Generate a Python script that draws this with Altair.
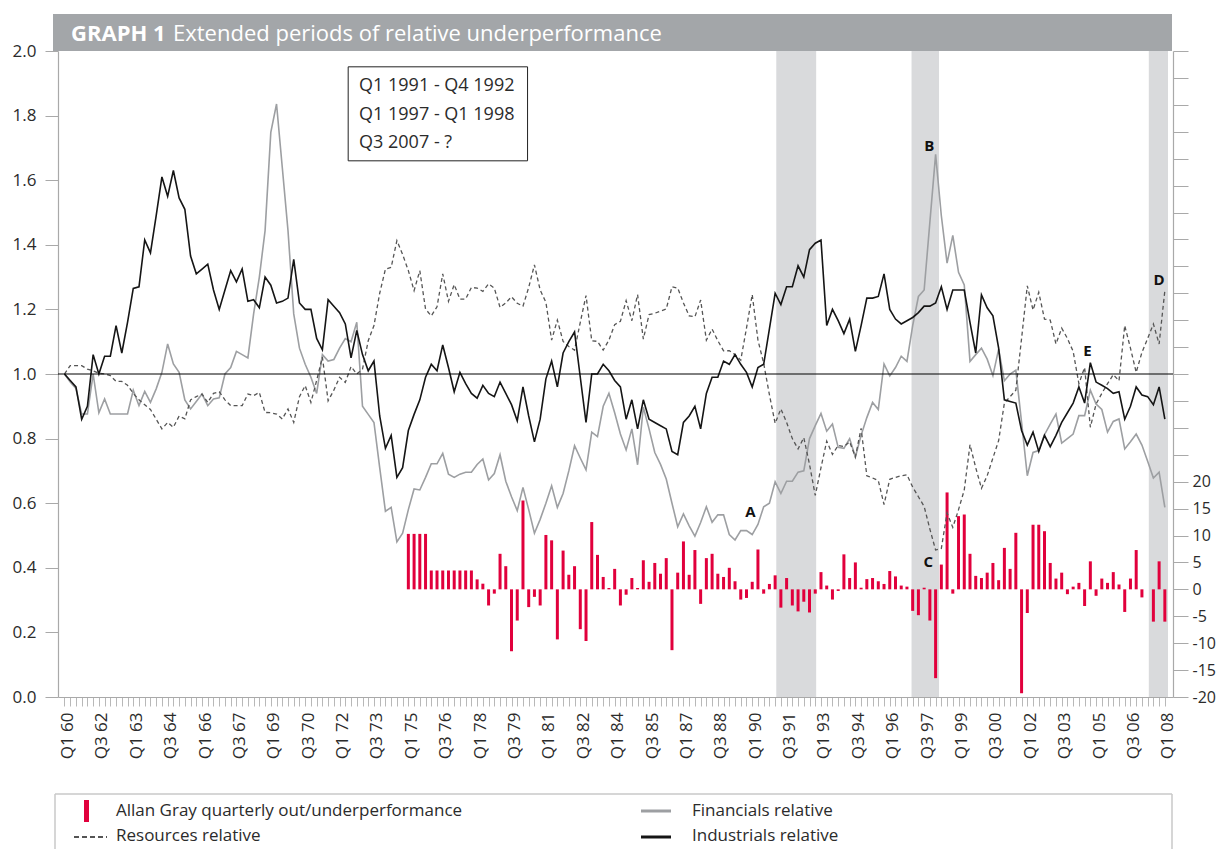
import json
import altair as alt
import pandas as pd

# ---------------- data ----------------
X_LABELS = ["Q1 60", "Q3 62", "Q1 63", "Q3 64", "Q1 66", "Q3 67", "Q1 69", "Q3 70",
            "Q1 72", "Q3 73", "Q1 75", "Q3 76", "Q1 78", "Q3 79", "Q1 81", "Q3 82",
            "Q1 84", "Q3 85", "Q1 87", "Q3 88", "Q1 90", "Q3 91", "Q1 93", "Q3 94",
            "Q1 96", "Q3 97", "Q1 99", "Q3 00", "Q1 02", "Q3 03", "Q1 05", "Q3 06", "Q1 08"]

industrials = [
    1.00, 0.98, 0.96, 0.86, 0.90, 1.06, 1.00, 1.055, 1.055, 1.15,
    1.065, 1.16, 1.265, 1.27, 1.415, 1.375, 1.49, 1.61, 1.55, 1.63,
    1.545, 1.51, 1.365, 1.31, 1.325, 1.34, 1.26, 1.20, 1.26, 1.32,
    1.285, 1.325, 1.225, 1.23, 1.205, 1.30, 1.275, 1.22, 1.225, 1.235,
    1.355, 1.22, 1.20, 1.20, 1.11, 1.075, 1.23, 1.21, 1.19, 1.155,
    1.05, 1.135, 1.06, 1.01, 1.04, 0.87, 0.77, 0.81, 0.68, 0.71,
    0.825, 0.875, 0.92, 0.99, 1.03, 1.01, 1.09, 1.02, 0.945, 1.005,
    0.97, 0.94, 0.925, 0.965, 0.94, 0.93, 0.975, 0.94, 0.905, 0.855,
    0.96, 0.87, 0.79, 0.86, 0.985, 1.04, 0.96, 1.065, 1.10, 1.13,
    0.99, 0.85, 1.00, 1.00, 1.03, 1.01, 0.98, 0.96, 0.86, 0.92,
    0.83, 0.92, 0.86, 0.85, 0.84, 0.83, 0.76, 0.75, 0.85, 0.87,
    0.90, 0.83, 0.94, 0.99, 0.99, 1.04, 1.03, 1.06, 1.03, 1.005,
    0.96, 1.02, 1.03, 1.14, 1.25, 1.215, 1.27, 1.27, 1.335, 1.30,
    1.385, 1.405, 1.415, 1.15, 1.20, 1.165, 1.125, 1.17, 1.07, 1.15,
    1.235, 1.235, 1.24, 1.31, 1.20, 1.17, 1.155, 1.165, 1.175, 1.19,
    1.21, 1.21, 1.22, 1.27, 1.20, 1.26, 1.26, 1.26, 1.16, 1.065,
    1.245, 1.205, 1.18, 1.08, 0.92, 0.915, 0.91, 0.825, 0.78, 0.82,
    0.76, 0.81, 0.775, 0.81, 0.85, 0.88, 0.91, 0.96, 0.91, 1.035,
    0.975, 0.965, 0.955, 0.94, 0.945, 0.86, 0.90, 0.96, 0.935, 0.93,
    0.905, 0.96, 0.86]

financials = [
    1.00, 0.975, 0.955, 0.876, 0.876, 1.00, 0.88, 0.923, 0.876, 0.876,
    0.876, 0.876, 0.95, 0.902, 0.946, 0.912, 0.954, 1.005, 1.093, 1.031,
    1.005, 0.92, 0.892, 0.915, 0.938, 0.902, 0.923, 0.926, 1.00, 1.02,
    1.07, 1.06, 1.05, 1.186, 1.30, 1.444, 1.748, 1.836, 1.64, 1.444,
    1.186, 1.08, 1.03, 0.99, 0.94, 1.06, 1.04, 1.045, 1.08, 1.11,
    1.10, 1.16, 0.90, 0.875, 0.85, 0.71, 0.575, 0.587, 0.48, 0.507,
    0.58, 0.644, 0.641, 0.68, 0.722, 0.722, 0.754, 0.69, 0.68, 0.69,
    0.696, 0.696, 0.72, 0.737, 0.672, 0.692, 0.75, 0.668, 0.62, 0.577,
    0.649, 0.58, 0.507, 0.55, 0.60, 0.654, 0.587, 0.63, 0.70, 0.778,
    0.74, 0.703, 0.82, 0.806, 0.90, 0.94, 0.88, 0.814, 0.765, 0.83,
    0.719, 0.897, 0.83, 0.757, 0.72, 0.675, 0.60, 0.527, 0.567, 0.53,
    0.498, 0.54, 0.589, 0.541, 0.564, 0.564, 0.503, 0.486, 0.515, 0.515,
    0.503, 0.534, 0.589, 0.60, 0.666, 0.63, 0.668, 0.668, 0.696, 0.70,
    0.80, 0.84, 0.878, 0.823, 0.845, 0.773, 0.77, 0.80, 0.743, 0.81,
    0.865, 0.912, 0.89, 1.031, 0.994, 1.02, 1.055, 1.039, 1.15, 1.24,
    1.26, 1.47, 1.68, 1.49, 1.343, 1.429, 1.315, 1.276, 1.039, 1.06,
    1.08, 1.046, 0.995, 1.077, 0.979, 1.00, 1.012, 0.85, 0.685, 0.757,
    0.763, 0.812, 0.845, 0.876, 0.786, 0.80, 0.814, 0.871, 0.871, 0.95,
    0.907, 0.89, 0.82, 0.853, 0.861, 0.768, 0.79, 0.814, 0.78, 0.73,
    0.678, 0.696, 0.587]

resources = [
    1.00, 1.026, 1.026, 1.026, 1.015, 1.01, 1.002, 1.00, 0.995, 0.977,
    0.977, 0.965, 0.94, 0.92, 0.905, 0.89, 0.86, 0.83, 0.85, 0.835,
    0.87, 0.861, 0.92, 0.93, 0.938, 0.912, 0.94, 0.945, 0.92, 0.902,
    0.902, 0.902, 0.938, 0.933, 0.943, 0.881, 0.88, 0.876, 0.861, 0.892,
    0.85, 0.93, 0.964, 0.912, 0.98, 1.052, 0.917, 0.95, 0.99, 0.974,
    1.023, 1.00, 1.015, 1.103, 1.15, 1.25, 1.325, 1.33, 1.413, 1.37,
    1.32, 1.258, 1.32, 1.201, 1.18, 1.208, 1.31, 1.225, 1.277, 1.232,
    1.232, 1.268, 1.266, 1.256, 1.279, 1.266, 1.206, 1.22, 1.239, 1.219,
    1.21, 1.268, 1.338, 1.26, 1.222, 1.105, 1.167, 1.101, 1.085, 1.074,
    1.16, 1.243, 1.103, 1.101, 1.074, 1.105, 1.153, 1.163, 1.227, 1.165,
    1.246, 1.108, 1.184, 1.188, 1.195, 1.201, 1.27, 1.266, 1.22, 1.18,
    1.177, 1.229, 1.105, 1.139, 1.103, 1.072, 1.072, 1.06, 1.043, 1.142,
    1.246, 1.105, 1.033, 0.936, 0.847, 0.892, 0.85, 0.80, 0.768, 0.803,
    0.72, 0.624, 0.71, 0.792, 0.751, 0.779, 0.775, 0.79, 0.743, 0.832,
    0.685, 0.678, 0.67, 0.596, 0.674, 0.68, 0.685, 0.688, 0.65, 0.62,
    0.59, 0.52, 0.455, 0.46, 0.57, 0.525, 0.58, 0.641, 0.781, 0.71,
    0.646, 0.685, 0.74, 0.794, 0.91, 0.93, 0.95, 1.11, 1.273, 1.198,
    1.253, 1.17, 1.167, 1.093, 1.142, 1.11, 1.07, 0.97, 1.02, 0.835,
    0.907, 0.94, 0.97, 0.998, 0.979, 1.15, 1.08, 1.005, 1.067, 1.11,
    1.155, 1.093, 1.258]

# Allan Gray quarterly out/underperformance (%), from Q1 1975
FIRST_BAR_QUARTER = 60
allan_gray = [
    10.3, 10.3, 10.3, 10.3, 3.5, 3.5, 3.5, 3.5, 3.5, 3.5,
    3.5, 3.5, 1.85, 1.05, -3.0, -0.8, 6.6, 4.3, -11.5, -5.8,
    16.5, -3.3, -1.4, -3.0, 10.1, 9.1, -9.3, 7.2, 2.7, 4.3,
    -7.4, -9.6, 12.5, 6.4, 2.3, 0.25, 3.8, -3.0, -1.0, 2.1,
    0.25, 5.4, 1.4, 4.9, 2.9, 5.8, -11.3, 3.1, 8.9, 2.7,
    7.3, -2.7, 5.8, 6.6, 2.9, 2.3, 4.0, 1.5, -1.9, -1.6,
    1.4, 7.4, -0.8, 1.0, 2.6, -3.4, 2.1, -3.0, -4.1, -2.3,
    -4.3, -0.8, 3.2, 0.7, -1.9, -0.3, 6.5, 2.1, 5.0, 0.3,
    1.9, 2.1, 1.5, 1.0, 3.4, 2.4, 0.7, 0.5, -4.0, -4.8,
    0.3, -5.8, -16.5, 4.6, 18.0, -0.8, 13.6, 13.9, 6.6, 2.5,
    2.1, 3.1, 4.9, 1.7, 7.7, 3.8, 10.5, -19.3, -4.4, 12.0,
    12.0, 10.8, 4.9, 2.0, 3.1, -0.9, 0.5, 1.2, -3.1, 5.2,
    -1.2, 2.0, 1.2, 3.2, 0.9, -4.2, 2.0, 7.3, -1.5, 0.0,
    -6.0, 5.2, -6.0]

period_labels = ["Q1 1991 - Q4 1992", "Q1 1997 - Q1 1998", "Q3 2007 - ?"]
period_start = [124.2, 147.8, 189.2]
period_end = [131.16, 152.6, 192.55]

point_labels = ["A", "B", "C", "D", "E"]
point_q = [119.7, 150.9, 150.7, 191.0, 178.5]
point_v = [0.573, 1.706, 0.418, 1.291, 1.071]

title_bold = "GRAPH 1"
title_rest = "Extended periods of relative underperformance"
series_names = ["Allan Gray quarterly out/underperformance", "Resources relative",
                "Financials relative", "Industrials relative"]

# ---------------- styling ----------------
FONT = "Open Sans"
RED = "#e1003c"
GREY_LINE = "#9d9fa2"
BLACK = "#151515"
DASH_COL = "#555555"
AXIS_COL = "#a9a9a9"
TXT = "#2b2b2b"
W, H = 1115, 646

lines_df = pd.DataFrame({"k": list(range(len(industrials))), "ind": industrials,
                         "fin": financials, "res": resources})
bars_df = pd.DataFrame({"k": list(range(FIRST_BAR_QUARTER, FIRST_BAR_QUARTER + len(allan_gray))),
                        "ag": allan_gray})
bands_df = pd.DataFrame({"start": period_start, "end": period_end})
points_df = pd.DataFrame({"k": point_q, "v": point_v, "t": point_labels})

xscale = alt.Scale(domain=[-0.26, 192.55], nice=False, zero=False)
yscale = alt.Scale(domain=[0, 2], nice=False, zero=False)
bscale = alt.Scale(domain=[-20, 100], nice=False)

label_expr = "datum.value % 6 == 0 ? " + json.dumps(X_LABELS) + "[datum.value / 6] : ''"
x_axis = alt.Axis(values=list(range(0, 193)), labelExpr=label_expr, labelAngle=270,
                  labelAlign="right", labelBaseline="middle", labelOffset=3,
                  labelOverlap=False, labelFlush=False, labelBound=False,
                  tickSize=9, tickColor="#b8b8b8", tickWidth=1,
                  domainColor=AXIS_COL, domainWidth=1.2,
                  labelFontSize=17, labelColor=TXT, labelFont=FONT, labelPadding=6,
                  grid=False, title=None)
y_axis = alt.Axis(orient="left", values=[round(0.2 * i, 1) for i in range(11)], format=".1f",
                  tickSize=13, tickColor=AXIS_COL, domainColor=AXIS_COL, domainWidth=1.2,
                  labelPadding=9, labelFontSize=17, labelColor=TXT, labelFont=FONT,
                  grid=False, title=None, labelOverlap=False)
b_axis = alt.Axis(orient="right", values=list(range(-20, 101, 5)),
                  labelExpr="datum.value <= 20 ? '' + datum.value : ''",
                  tickSize=15, tickColor=AXIS_COL, domainColor=AXIS_COL, domainWidth=1.2,
                  labelPadding=4, labelFontSize=16, labelColor=TXT, labelFont=FONT,
                  grid=False, title=None, labelOverlap=False)


def X(field="k"):
    return alt.X(f"{field}:Q", scale=xscale, axis=x_axis)


def Y(field):
    return alt.Y(f"{field}:Q", scale=yscale, axis=y_axis)


# shaded periods
bands = alt.Chart(bands_df).mark_rect(color="#d9dadc").encode(
    x=X("start"), x2="end:Q", y=alt.value(0), y2=alt.value(H))

# bars
bars = alt.Chart(bars_df).mark_bar(size=3, color=RED).encode(
    x=X(), y=alt.Y("ag:Q", scale=bscale, axis=b_axis))

# lines
base = alt.Chart(lines_df)
fin_line = base.mark_line(color=GREY_LINE, strokeWidth=1.6).encode(x=X(), y=Y("fin"))
res_line = base.mark_line(color=DASH_COL, strokeWidth=1.3, strokeDash=[4, 3]).encode(x=X(), y=Y("res"))
ind_line = base.mark_line(color=BLACK, strokeWidth=1.6).encode(x=X(), y=Y("ind"))
one_rule = alt.Chart(pd.DataFrame({"v": [1.0]})).mark_rule(color="#000000", strokeWidth=1).encode(y=Y("v"))

# annotation box
box_rect = alt.Chart(pd.DataFrame({"x1": [49.5], "x2": [80.8], "y1": [1.951], "y2": [1.660]})).mark_rect(
    fill="white", stroke="#222222", strokeWidth=1).encode(x=X("x1"), x2="x2:Q", y=Y("y1"), y2="y2:Q")
box_text = alt.Chart(pd.DataFrame({"k": [51.4] * 3, "v": [1.892, 1.802, 1.714], "t": period_labels})).mark_text(
    align="left", baseline="middle", font=FONT, fontSize=18, color=TXT).encode(x=X(), y=Y("v"), text="t:N")

letters = alt.Chart(points_df).mark_text(align="center", baseline="middle", font=FONT, fontSize=15,
                                          fontWeight="bold", color="#111111").encode(
    x=X(), y=Y("v"), text="t:N")

left_group = alt.layer(fin_line, res_line, ind_line, one_rule, box_rect, box_text, letters)

# title bar
one = pd.DataFrame({"a": [0]})
title_rect = alt.Chart(one).mark_rect(color="#a3a6a9").encode(
    x=alt.value(-5), x2=alt.value(W - 1), y=alt.value(-37), y2=alt.value(0))
title1 = alt.Chart(pd.DataFrame({"t": [title_bold]})).mark_text(
    align="left", baseline="alphabetic", font=FONT, fontSize=22, fontWeight="bold", color="white").encode(
    x=alt.value(13), y=alt.value(-10), text="t:N")
title2 = alt.Chart(pd.DataFrame({"t": [title_rest]})).mark_text(
    align="left", baseline="alphabetic", font=FONT, fontSize=22, color="white").encode(
    x=alt.value(115), y=alt.value(-10), text="t:N")

# legend box
LEG_TOP = 743
LEG_BOT = 798
ROW1, ROW2 = 760, 785
leg_top = alt.Chart(one).mark_rule(color="#c9c9c9", strokeWidth=1.5).encode(
    x=alt.value(-3), x2=alt.value(W - 1), y=alt.value(LEG_TOP))
leg_left = alt.Chart(one).mark_rule(color="#c9c9c9", strokeWidth=1.5).encode(
    x=alt.value(-3), y=alt.value(LEG_TOP), y2=alt.value(LEG_BOT))
leg_right = alt.Chart(one).mark_rule(color="#c9c9c9", strokeWidth=1.5).encode(
    x=alt.value(W - 1), y=alt.value(LEG_TOP), y2=alt.value(LEG_BOT))
sym_bar = alt.Chart(one).mark_rect(color=RED).encode(
    x=alt.value(26), x2=alt.value(31), y=alt.value(ROW1 - 11), y2=alt.value(ROW1 + 11))
sym_res = alt.Chart(one).mark_rule(color=DASH_COL, strokeWidth=2, strokeDash=[5, 3]).encode(
    x=alt.value(16), x2=alt.value(49), y=alt.value(ROW2 + 1))
sym_fin = alt.Chart(one).mark_rule(color=GREY_LINE, strokeWidth=3).encode(
    x=alt.value(583), x2=alt.value(613), y=alt.value(ROW1))
sym_ind = alt.Chart(one).mark_rule(color=BLACK, strokeWidth=3).encode(
    x=alt.value(583), x2=alt.value(613), y=alt.value(ROW2 + 1))


def leg_text(name, xpos, ypos):
    return alt.Chart(pd.DataFrame({"t": [name]})).mark_text(
        align="left", baseline="middle", font=FONT, fontSize=17, color=TXT).encode(
        x=alt.value(xpos), y=alt.value(ypos), text="t:N")


legend_layers = [leg_top, leg_left, leg_right, sym_bar, sym_res, sym_fin, sym_ind,
                 leg_text(series_names[0], 58, ROW1), leg_text(series_names[1], 58, ROW2),
                 leg_text(series_names[2], 634, ROW1), leg_text(series_names[3], 634, ROW2)]

chart = alt.layer(bands, bars, left_group, title_rect, title1, title2, *legend_layers).resolve_scale(
    y="independent"
).properties(
    width=W, height=H,
    autosize=alt.AutoSizeParams(type="none"),
    padding={"left": 50, "top": 43, "right": 45, "bottom": 152},
    background="white"
).configure_view(stroke=None)

chart.save("out.html", embed_options={"renderer": "svg", "actions": False})
